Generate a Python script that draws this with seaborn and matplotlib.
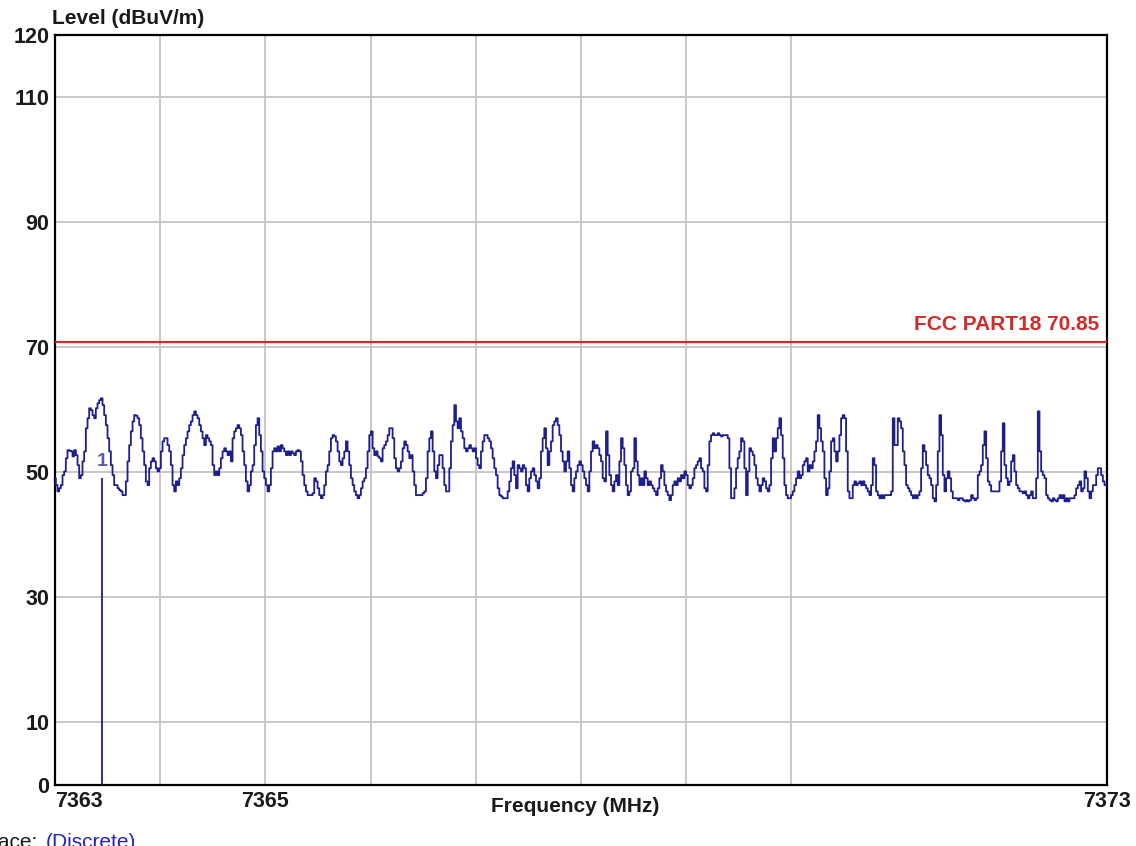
import numpy as np
import pandas as pd
import matplotlib
matplotlib.use("Agg")
import matplotlib.pyplot as plt
import seaborn as sns

# Sweep readings (dBuV/m), one list per MHz block
level_a = [49.0, 47.9, 46.9, 47.4, 47.9, 49.5, 50.1, 52.2, 53.5, 53.4, 53.3, 52.5, 53.5, 52.7, 51.1, 49.0,
           49.5, 51.7, 53.3, 57.0, 58.6, 60.2, 59.9, 59.1, 58.6, 60.2, 61.0, 61.5, 61.8, 60.7, 59.1, 57.5,
           55.4, 53.3, 51.1, 49.5, 47.9, 47.9, 47.4, 47.1, 46.9, 46.3, 46.3, 48.5, 51.7, 54.3, 56.5, 58.1,
           59.1, 59.0, 58.6, 57.5, 55.4, 53.3, 51.1, 48.5, 47.9, 50.6, 51.7, 52.2, 51.7, 50.6, 50.1, 50.6,
           53.3, 54.9, 55.4, 55.4, 54.3, 53.3, 51.1, 47.9, 46.9, 48.5, 47.9, 49.0, 50.6, 52.7, 54.3, 55.4,
           56.5, 57.5, 58.1, 59.1, 59.7, 59.1, 58.6, 57.5, 56.5, 55.4, 54.3, 55.9, 55.4, 54.9, 54.3, 51.1,
           49.5, 50.1, 49.5, 50.6, 52.2, 53.3, 53.8, 53.3, 52.7, 53.3, 51.7, 55.4, 56.5, 57.0, 57.5, 57.0,
           55.9, 53.3, 51.1, 48.5, 46.9, 47.9, 50.1, 51.1, 54.3, 57.5, 58.6, 55.9, 53.3, 50.1, 49.0, 47.9,
           46.9, 47.9, 50.6, 53.3, 53.8, 53.3, 54.1, 53.3, 54.3, 53.8, 53.3, 52.7, 53.3, 52.7, 53.3, 53.0,
           52.7, 53.3, 53.5, 53.3, 51.7, 49.5, 47.9, 46.9, 46.3, 46.3, 46.3, 46.6]
level_b = [49.0, 48.5, 47.4, 46.3, 45.8, 46.3, 47.9, 50.1, 51.1, 53.3, 55.4, 55.9, 55.7, 54.9, 53.3, 51.7,
           51.1, 52.2, 53.3, 54.9, 53.3, 51.1, 49.0, 47.9, 46.9, 46.3, 45.8, 46.3, 47.4, 48.5, 49.0, 50.6,
           53.3, 55.9, 56.5, 53.8, 52.7, 53.3, 52.5, 52.2, 51.7, 53.8, 54.3, 54.9, 55.9, 57.0, 57.0, 55.4,
           52.2, 50.6, 50.1, 50.6, 51.7, 53.8, 54.9, 54.3, 53.3, 52.2, 52.7, 50.1, 47.9, 46.3, 46.3, 46.3,
           46.3, 46.6, 46.9, 49.0, 53.3, 55.4, 56.5, 53.3, 50.1, 49.0, 51.1, 52.7, 52.7, 50.6, 47.9, 46.9,
           46.9, 50.6, 54.9, 57.5, 60.7, 58.1, 57.0, 58.6, 56.5, 55.4, 53.8, 53.3, 53.8, 54.3, 53.8, 53.3,
           53.8, 52.2, 51.1, 50.6, 53.3, 54.9, 55.9, 55.9, 55.4, 54.9, 53.8, 52.2, 50.6, 49.5, 47.4, 46.3,
           46.1, 45.8, 45.8, 45.8, 46.9, 48.5, 50.6, 51.7, 49.5, 47.4, 51.1, 50.6, 50.1, 51.1, 50.6, 47.9,
           46.9, 49.0, 50.1, 50.6, 49.5, 48.5, 47.4, 49.0, 53.3, 55.4, 57.0, 53.8, 51.1, 53.3, 54.9, 57.5,
           58.1, 58.6, 57.5, 55.9, 53.3, 51.7, 50.1, 51.7, 53.3, 50.6, 47.9, 46.9, 49.0, 50.1, 51.1]
level_c = [51.7, 51.1, 50.1, 49.0, 47.9, 46.9, 50.1, 53.3, 54.9, 53.8, 54.3, 53.8, 52.7, 51.7, 49.0, 48.5,
           56.5, 52.7, 49.5, 47.9, 46.9, 48.5, 49.5, 47.9, 51.7, 55.4, 53.8, 51.1, 47.9, 46.3, 46.9, 50.1,
           50.6, 55.4, 51.7, 49.5, 47.9, 49.0, 47.9, 50.1, 49.0, 47.9, 48.5, 47.9, 47.4, 46.9, 46.3, 47.4,
           49.0, 51.1, 50.1, 47.9, 46.9, 46.3, 45.5, 46.3, 47.9, 48.5, 47.9, 49.0, 48.5, 49.5, 49.0, 50.1,
           49.5, 47.9, 47.4, 47.9, 49.0, 50.6, 51.1, 51.7, 52.2, 50.6, 50.1, 47.4, 46.9, 51.1, 54.9, 55.9,
           56.2, 55.9, 55.9, 56.2, 55.9, 55.7, 55.9, 55.9, 55.9, 55.4, 50.6, 45.8, 45.8, 47.4, 50.6, 52.2,
           53.3, 55.4, 54.9, 50.6, 46.3, 50.1, 53.8, 53.3, 52.7, 51.1, 49.0, 47.9, 46.9, 47.9, 49.0, 48.5,
           47.4, 46.9, 47.9, 52.2, 55.4, 53.3, 55.4, 57.0, 58.6, 55.9, 52.2, 47.9, 46.3, 45.8, 45.8, 46.3,
           46.9, 47.9, 49.0, 50.1, 49.0, 49.5, 51.1, 51.7, 52.2, 50.1, 51.1, 50.6, 51.7, 53.3, 54.9, 59.1,
           57.0, 54.9, 53.3, 49.0, 46.3, 47.4, 50.1, 54.9, 55.4, 53.3, 51.7, 53.3, 55.9, 58.6, 59.1]
level_d = [58.6, 53.3, 46.9, 45.8, 45.8, 47.9, 48.5, 47.9, 48.2, 48.5, 47.9, 48.5, 47.9, 47.4, 46.9, 46.3,
           47.9, 52.2, 51.1, 46.9, 46.3, 45.8, 46.3, 45.8, 46.3, 46.3, 46.3, 46.3, 46.9, 58.6, 54.3, 54.3,
           58.6, 58.1, 57.0, 53.3, 51.1, 47.9, 47.4, 46.9, 46.3, 45.8, 46.3, 45.8, 46.3, 46.9, 50.6, 54.3,
           53.3, 51.1, 49.5, 49.0, 47.9, 45.8, 45.3, 47.9, 53.3, 59.1, 55.9, 49.5, 46.9, 49.0, 50.1, 49.0,
           46.9, 45.8, 45.8, 45.8, 45.5, 45.8, 45.8, 45.5, 45.3, 45.5, 45.3, 45.5, 46.3, 45.8, 45.5, 45.8,
           49.5, 50.1, 51.1, 54.3, 56.5, 52.2, 48.5, 47.9, 46.9, 46.9, 46.9, 46.9, 46.9, 48.5, 53.3, 57.8,
           51.1, 49.0, 47.9, 48.5, 51.7, 52.7, 50.1, 47.9, 47.4, 46.9, 46.9, 46.6, 46.9, 46.3, 45.8, 46.3,
           46.9, 45.8, 45.8, 49.0, 59.7, 53.3, 50.1, 49.5, 49.0, 46.3, 45.8, 45.5, 45.3, 45.8, 45.5, 45.3,
           45.8, 46.3, 45.8, 46.3, 45.3, 45.8, 45.3, 45.8, 45.8, 45.8, 46.3, 47.4, 47.9, 48.5, 46.9, 47.4,
           50.1, 49.0, 46.9, 45.8, 46.9, 47.9, 47.9, 49.5, 50.6, 50.6, 49.5, 48.5, 47.9, 47.9]

f_start, f_stop = 7363, 7373
limit_level = 70.85
limit_name = "FCC PART18 70.85"
marker_freq = 7363.45
marker_level = 49.0
x_ticks = [7363, 7365, 7373]
x_grid = [7364, 7365, 7366, 7367, 7368, 7369, 7370]
y_ticks = [0, 10, 30, 50, 70, 90, 110, 120]

level = level_a + level_b + level_c + level_d
df = pd.DataFrame({"freq": np.linspace(f_start, f_stop, len(level)), "level": level})

sns.set_style("white")
plt.rcParams["font.family"] = ["Liberation Sans", "DejaVu Sans"]

fig = plt.figure(figsize=(11.36, 8.46), dpi=100)
ax = fig.add_axes([55 / 1136, 61.5 / 846, 1052 / 1136, 750 / 846])

grid_kw = dict(color="#c4c4c4", lw=1.3, zorder=0)
for g in x_grid:
    ax.axvline(g, **grid_kw)
for g in y_ticks[1:-1]:
    ax.axhline(g, **grid_kw)

sns.lineplot(data=df, x="freq", y="level", ax=ax, color="#1e1e8c", lw=1.3,
             estimator=None, drawstyle="steps-mid", zorder=3)

ax.axhline(limit_level, color="#d42a2a", lw=1.6, zorder=4)
ax.text(7372.93, limit_level + 1.2, limit_name, color="#d42a2a", fontsize=15,
        fontweight="bold", ha="right", va="bottom")

ax.vlines(marker_freq, 0, marker_level, color="#1e1e8c", lw=1.3, zorder=4)
ax.text(marker_freq, marker_level + 2.7, "1", color="#5a5aaa", fontsize=14,
        fontweight="bold", ha="center", va="center")

ax.set_xlim(f_start, f_stop)
ax.set_ylim(0, 120)
ax.set_xticks(x_ticks)
ax.set_xticklabels([str(t) for t in x_ticks])
ax.set_yticks(y_ticks)
ax.set_yticklabels([str(t) for t in y_ticks])
ax.tick_params(length=0, labelsize=15.5)
ax.tick_params(axis="x", pad=5)
ax.tick_params(axis="y", pad=4)
for lab in ax.get_xticklabels() + ax.get_yticklabels():
    lab.set_fontweight("bold")
    lab.set_color("#1a1a1a")
ax.get_xticklabels()[0].set_ha("left")
ax.set_xlabel("")
ax.set_ylabel("")

for s in ax.spines.values():
    s.set_color("black")
    s.set_linewidth(1.6)

fig.text(52 / 1136, 1 - 18 / 846, "Level (dBuV/m)", fontsize=15, fontweight="bold",
         color="#1a1a1a", ha="left", va="center")
fig.text(575 / 1136, 1 - 806 / 846, "Frequency (MHz)", fontsize=15, fontweight="bold",
         color="#1a1a1a", ha="center", va="center")
fig.text(38 / 1136, 1 - 842 / 846, "Trace:", fontsize=15, color="#1a1a1a",
         ha="right", va="center")
fig.text(46 / 1136, 1 - 842 / 846, "(Discrete)", fontsize=15, color="#2222cc",
         ha="left", va="center")

fig.savefig("out.png", dpi=100)
